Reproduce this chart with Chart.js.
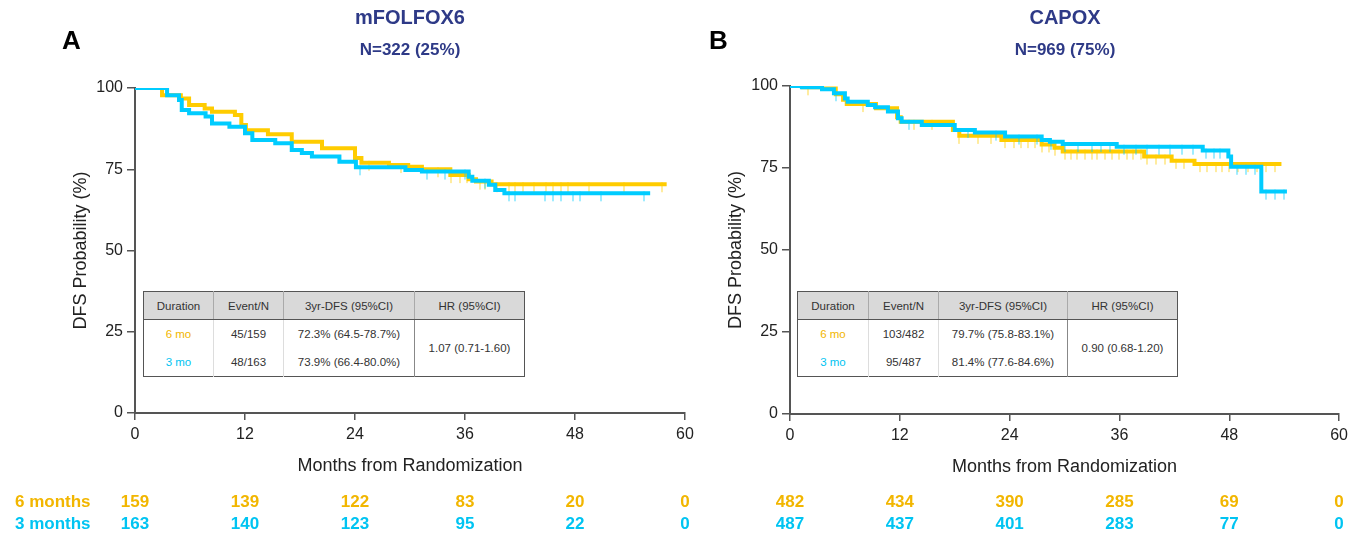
<!DOCTYPE html>
<html>
<head>
<meta charset="utf-8">
<script src="https://cdn.jsdelivr.net/npm/chart.js@4.4.1/dist/chart.umd.min.js"></script>
<style>
  body { margin: 0; width: 1353px; height: 539px; background: #fff; position: relative; overflow: hidden;
         font-family: "Liberation Sans", Arial, sans-serif; }
  canvas { position: absolute; top: 0; }
  #chartA { left: 0; }
  #chartB { left: 680px; }
  .letter { position: absolute; font-weight: bold; font-size: 26px; line-height: 30px; color: #000; }
  .title { position: absolute; width: 400px; text-align: center; font-weight: bold; color: #2e3a87; }
  .t1 { font-size: 20px; line-height: 24px; }
  .t2 { font-size: 17px; line-height: 22px; }
  table.inset { position: absolute; border-collapse: collapse; font-size: 11.5px; color: #333; background: #fff;
                border: 1px solid #555; table-layout: fixed; }
  table.inset th { background: #d9d9d9; font-weight: normal; height: 27px; border-bottom: 1px solid #555;
                   border-left: 1px solid #aaa; padding: 0; }
  table.inset td { height: 28px; text-align: center; padding: 0; border-left: 1px solid #ddd; }
  table.inset td.hr { border-left: 1px solid #888; }
  .c6 { color: #f2b600; }
  .c3 { color: #00c4f2; }
</style>
</head>
<body>
<canvas id="chartA" width="700" height="539"></canvas>
<canvas id="chartB" width="673" height="539"></canvas>

<div class="letter" style="left:62px; top:25px;">A</div>
<div class="letter" style="left:709px; top:25px;">B</div>
<div class="title t1" style="left:210px; top:5px;">mFOLFOX6</div>
<div class="title t2" style="left:210px; top:39px;">N=322 (25%)</div>
<div class="title t1" style="left:865px; top:5px;">CAPOX</div>
<div class="title t2" style="left:865px; top:39px;">N=969 (75%)</div>

<table class="inset" style="left:143px; top:291px; width:381px;">
  <colgroup><col style="width:70px"><col style="width:70px"><col style="width:131px"><col style="width:110px"></colgroup>
  <tr><th style="border-left:none">Duration</th><th>Event/N</th><th>3yr-DFS (95%CI)</th><th>HR (95%CI)</th></tr>
  <tr><td class="c6" style="border-left:none">6 mo</td><td>45/159</td><td>72.3% (64.5-78.7%)</td><td class="hr" rowspan="2">1.07 (0.71-1.60)</td></tr>
  <tr><td class="c3" style="border-left:none">3 mo</td><td>48/163</td><td>73.9% (66.4-80.0%)</td></tr>
</table>

<table class="inset" style="left:797px; top:291px; width:380px;">
  <colgroup><col style="width:71px"><col style="width:70px"><col style="width:129px"><col style="width:110px"></colgroup>
  <tr><th style="border-left:none">Duration</th><th>Event/N</th><th>3yr-DFS (95%CI)</th><th>HR (95%CI)</th></tr>
  <tr><td class="c6" style="border-left:none">6 mo</td><td>103/482</td><td>79.7% (75.8-83.1%)</td><td class="hr" rowspan="2">0.90 (0.68-1.20)</td></tr>
  <tr><td class="c3" style="border-left:none">3 mo</td><td>95/487</td><td>81.4% (77.6-84.6%)</td></tr>
</table>

<script>
// x axis ticks (months)
const monthTicks = [0, 12, 24, 36, 48, 60];
const riskLabels = ['6 months', '3 months'];

// Panel A - mFOLFOX6, KM steps (months, DFS %)
const a6Time = [0, 2.95, 5.0, 5.9, 7.6, 8.4, 10.9, 11.6, 12.1, 14.5, 17.1, 20.4, 24.0, 24.7, 27.7, 29.8, 31.3, 34.4, 36.4, 37.2, 38.9, 58.0];
const a6Surv = [100, 97.8, 96.8, 94.8, 93.7, 92.7, 91.7, 88.6, 87.0, 85.8, 83.5, 81.5, 78.5, 77.0, 76.3, 75.8, 75.0, 73.2, 71.9, 71.2, 70.4, 70.4];
const a3Time = [0, 3.5, 4.8, 5.1, 5.9, 7.7, 8.4, 10.3, 12.0, 12.8, 15.3, 17.1, 18.2, 19.3, 22.3, 24.1, 29.5, 31.3, 36.4, 36.8, 38.6, 39.3, 40.3, 56.2];
const a3Surv = [100, 97.8, 96.3, 93.2, 92.2, 91.2, 89.1, 88.1, 86.1, 84.0, 83.0, 80.9, 80.0, 78.9, 77.3, 75.6, 74.8, 74.3, 72.7, 71.5, 70.2, 68.6, 67.6, 67.6];
const a6Censor = [25.5, 29, 33, 34.5, 35.5, 36.2, 37.6, 38.2, 39.5, 40.8, 41.5, 42.3, 43.5, 44.8, 45.6, 46.5, 47.2, 49.5, 53.3, 57.5];
const a3Censor = [24.5, 31.8, 33.8, 36, 38.2, 40.8, 41.4, 44.7, 45.6, 46.5, 47.8, 48.5, 50.8, 55.5];
const a6Risk = [159, 139, 122, 83, 20, 0];
const a3Risk = [163, 140, 123, 95, 22, 0];

// Panel B - CAPOX
const b6Time = [0, 1.4, 3.5, 5.0, 5.8, 6.2, 9.4, 11.7, 12.1, 17.8, 18.5, 23.1, 27.5, 28.9, 29.8, 38.7, 41.7, 44.2, 53.7];
const b6Surv = [100, 99.6, 99.2, 97.5, 95.8, 94.5, 93.2, 90.5, 89.1, 86.6, 84.8, 83.5, 82.2, 81.2, 80.0, 78.5, 77.2, 76.2, 76.2];
const b3Time = [0, 1.3, 3.5, 4.8, 6.0, 6.3, 8.5, 9.3, 10.7, 11.8, 12.2, 14.4, 18.0, 20.2, 23.5, 27.5, 28.4, 29.8, 35.7, 45.1, 47.9, 48.2, 51.5, 54.3];
const b3Surv = [100, 99.6, 99.0, 97.8, 96.2, 95.2, 94.2, 93.5, 92.2, 90.2, 89.1, 88.1, 86.6, 85.8, 84.6, 83.5, 83.0, 82.3, 81.5, 80.3, 78.5, 75.4, 67.8, 67.8];
const b6Censor = [2, 8, 13.5, 15.5, 18.5, 20.5, 22, 23.5, 24.5, 25.2, 26, 26.8, 27.5, 28.3, 29, 30, 30.7, 31.4, 32.2, 33, 33.6, 34.4, 35.2, 36, 36.8, 37.5, 38.3, 39, 40, 41, 42.2, 43, 44.8, 45.6, 46.5, 47.2, 48, 49, 50, 51, 52, 53];
const b3Censor = [5, 13, 19.5, 22.5, 25, 27, 28.5, 30, 31.5, 33, 34, 35, 36.5, 37.8, 39, 40.3, 41.5, 42.8, 44, 45.5, 46.3, 47, 48.8, 49.8, 50.8, 52, 53, 54];
const b6Risk = [482, 434, 390, 285, 69, 0];
const b3Risk = [487, 437, 401, 283, 77, 0];

const YELLOW = '#ffcc00';
const CYAN = '#00ccff';
const YELLOW_TXT = '#f2b600';
const CYAN_TXT = '#00c4f2';
const AXIS = '#555';
const FONT = '"Liberation Sans", Arial, sans-serif';

function toPoints(times, surv) {
    return times.map(function(t, i) { return { x: t, y: surv[i] }; });
}

// survival value at time t
function survAt(times, surv, t) {
    let v = surv[0];
    for (let i = 0; i < times.length; i++) {
        if (times[i] <= t) v = surv[i];
    }
    return v;
}

function censorPoints(times, surv, cens) {
    return cens.map(function(t) { return { x: t, y: survAt(times, surv, t) }; });
}

// censor mark: thin tick hanging below the curve
function censorMark(color) {
    const c = document.createElement('canvas');
    c.width = 2;
    c.height = 20;
    const g = c.getContext('2d');
    g.fillStyle = color;
    g.globalAlpha = 0.75;
    g.fillRect(0.5, 8, 1, 10);
    return c;
}

// numbers at risk, drawn under the x axis at each tick
const riskTable = {
    id: 'riskTable',
    afterDraw: function(chart, args, opts) {
        const ctx = chart.ctx;
        const xs = chart.scales.x;
        ctx.save();
        ctx.font = 'bold 17px ' + FONT;
        ctx.textBaseline = 'middle';
        opts.rows.forEach(function(row, r) {
            const y = opts.rowY[r];
            ctx.fillStyle = row.color;
            if (opts.showLabels) {
                ctx.textAlign = 'left';
                ctx.fillText(riskLabels[r], 15, y);
            }
            ctx.textAlign = 'center';
            row.values.forEach(function(v, i) {
                ctx.fillText(String(v), xs.getPixelForValue(monthTicks[i]), y);
            });
        });
        ctx.restore();
    }
};

function makeChart(id, cfg) {
    return new Chart(document.getElementById(id), {
        type: 'line',
        data: {
            datasets: [
                { label: '3 months', data: toPoints(cfg.t3, cfg.s3), stepped: 'before', borderColor: CYAN,
                  borderWidth: 4, pointRadius: 0, fill: false, order: 1 },
                { type: 'scatter', label: '3 months censored', data: censorPoints(cfg.t3, cfg.s3, cfg.c3),
                  pointStyle: censorMark(CYAN), pointRadius: 5, order: 0 },
                { label: '6 months', data: toPoints(cfg.t6, cfg.s6), stepped: 'before', borderColor: YELLOW,
                  borderWidth: 4, pointRadius: 0, fill: false, order: 3 },
                { type: 'scatter', label: '6 months censored', data: censorPoints(cfg.t6, cfg.s6, cfg.c6),
                  pointStyle: censorMark(YELLOW), pointRadius: 5, order: 2 }
            ]
        },
        options: {
            responsive: false,
            animation: false,
            events: [],
            layout: { padding: { left: 0, top: cfg.top, right: cfg.right, bottom: cfg.bottom } },
            plugins: {
                legend: { display: false },
                tooltip: { enabled: false },
                riskTable: {
                    rows: [{ values: cfg.r6, color: YELLOW_TXT }, { values: cfg.r3, color: CYAN_TXT }],
                    rowY: [502, 524],
                    showLabels: cfg.labels
                }
            },
            scales: {
                x: {
                    type: 'linear', min: 0, max: 60,
                    afterBuildTicks: function(s) { s.ticks = monthTicks.map(function(v) { return { value: v }; }); },
                    ticks: { font: { family: FONT, size: 16 }, color: '#222', padding: 5 },
                    grid: { drawOnChartArea: false, tickLength: 7, color: AXIS, lineWidth: 1.5 },
                    border: { color: AXIS, width: 2 },
                    title: { display: true, text: 'Months from Randomization', color: '#222',
                             font: { family: FONT, size: 18 } },
                    afterFit: function(s) { s.height = 68; }
                },
                y: {
                    min: 0, max: 100,
                    ticks: { stepSize: 25, font: { family: FONT, size: 16 }, color: '#222', padding: 4 },
                    grid: { drawOnChartArea: false, tickLength: 8, color: AXIS, lineWidth: 1.5 },
                    border: { color: AXIS, width: 2 },
                    title: { display: true, text: 'DFS Probability (%)', color: '#222',
                             font: { family: FONT, size: 18 }, padding: { top: cfg.titlePad, bottom: 0 } },
                    afterFit: function(s) { s.width = cfg.yWidth; }
                }
            }
        },
        plugins: [riskTable]
    });
}

makeChart('chartA', {
    t6: a6Time, s6: a6Surv, t3: a3Time, s3: a3Surv, c6: a6Censor, c3: a3Censor,
    r6: a6Risk, r3: a3Risk, labels: true,
    top: 88, right: 15, bottom: 58, yWidth: 135, titlePad: 70
});

makeChart('chartB', {
    t6: b6Time, s6: b6Surv, t3: b3Time, s3: b3Surv, c6: b6Censor, c3: b3Censor,
    r6: b6Risk, r3: b3Risk, labels: false,
    top: 86, right: 13, bottom: 57, yWidth: 110, titlePad: 45
});
</script>
</body>
</html>
